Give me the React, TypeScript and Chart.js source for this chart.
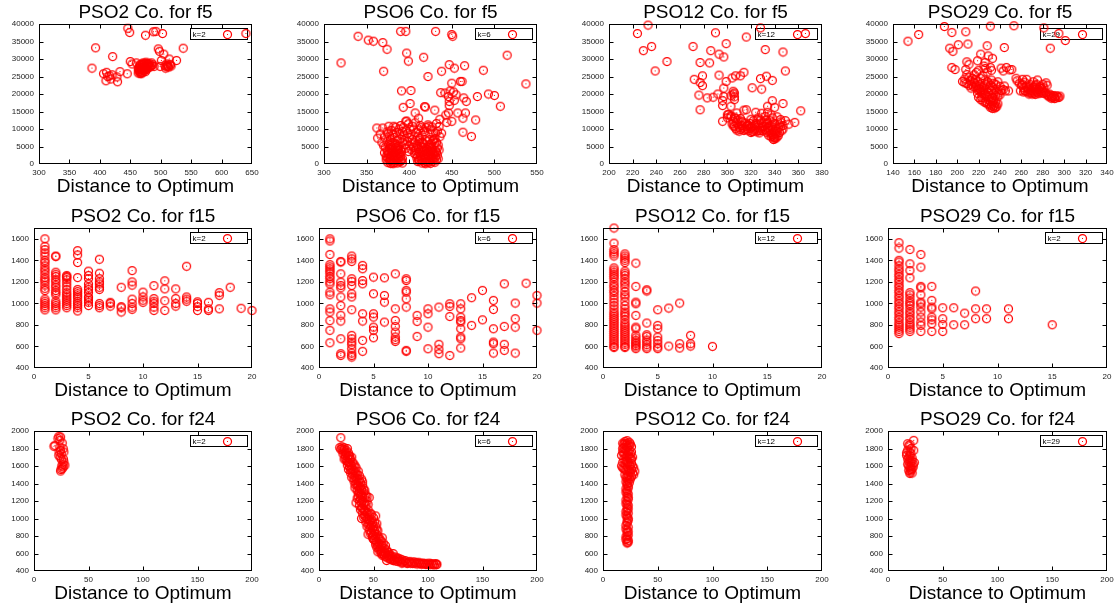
import React, { useEffect, useRef } from "react";
import { Chart, registerables } from "chart.js";
Chart.register(...registerables);

type Pt = [number, number];

// ---------- tick labels / ranges ----------
const f5YTicks = [0, 5000, 10000, 15000, 20000, 25000, 30000, 35000, 40000];
const f15YTicks = [400, 600, 800, 1000, 1200, 1400, 1600];
const f24YTicks = [400, 600, 800, 1000, 1200, 1400, 1600, 1800, 2000];
const f5YRange = [0, 40000];
const f15YRange = [400, 1700];
const f24YRange = [400, 2000];
const pso2F5XTicks = [300, 350, 400, 450, 500, 550, 600, 650];
const pso6F5XTicks = [300, 350, 400, 450, 500, 550];
const pso12F5XTicks = [200, 220, 240, 260, 280, 300, 320, 340, 360, 380];
const pso29F5XTicks = [140, 160, 180, 200, 220, 240, 260, 280, 300, 320, 340];
const f15XTicks = [0, 5, 10, 15, 20];
const f24XTicks = [0, 50, 100, 150, 200];

const titles = [
  "PSO2 Co. for f5", "PSO6 Co. for f5", "PSO12 Co. for f5", "PSO29 Co. for f5",
  "PSO2 Co. for f15", "PSO6 Co. for f15", "PSO12 Co. for f15", "PSO29 Co. for f15",
  "PSO2 Co. for f24", "PSO6 Co. for f24", "PSO12 Co. for f24", "PSO29 Co. for f24",
];
const keyLabels = ["k=2", "k=6", "k=12", "k=29", "k=2", "k=6", "k=12", "k=2", "k=2", "k=6", "k=12", "k=29"];
const xAxisLabel = "Distance to Optimum";

// ---------- series values ----------
const pso2F5: Pt[] = [
  [387,27400],[393,33200],[446,38800],[449,37600],[475,36800],[488,37800],[492,37900],[503,37300],[537,33100],[640,37300],
  [496,32900],[498,32200],[505,31400],[514,30000],[526,29600],[501,29600],[421,30700],[450,29300],[453,28600],[460,28900],
  [476,29100],[485,28900],[499,27900],[507,28200],[512,27900],[516,28300],[508,27400],[510,28600],
  [406,25800],[411,26200],[416,25200],[420,25500],[410,23800],[428,24900],[429,23500],[433,26400],[445,25800],[413,25000],[418,24300],
  [463,26000],[465,26500],[466,27000],[467,27500],[468,26200],[469,26800],[470,27300],[471,27800],[472,28300],[473,26600],
  [474,27100],[475,27600],[476,28100],[477,28600],[478,27400],[479,27900],[480,28200],[481,27700],[482,28000],[464,27200],
  [466,25900],[468,25800],[470,26100],[472,26900],[474,28700],[476,27300],[478,28700],[483,27800],[485,28100],[487,28400],
  [489,27900],[467,28200],[469,28600],[471,28900],[465,27800],[463,27300],[509,27800],[511,28100],[513,27700],[515,28500],[517,28000],
  [464,26600],[466,28400],[468,27100],[470,28500],[473,27900],[475,26400],[477,27000],[479,28500],[481,28800],[467,26300],
];
const pso6F5: Pt[] = [
  [320,28900],[340,36500],[352,35400],[358,35100],[369,34700],[374,32800],[370,26500],[390,37900],[396,37900],[397,31700],
  [399,29400],[417,30500],[431,37900],[450,37000],[451,36500],[422,25000],[438,26500],[447,28400],[453,27400],[465,28100],
  [487,26800],[515,31100],[537,22900],[391,20900],[402,21000],[393,16200],[401,17300],[418,16400],[430,15400],[437,20400],
  [442,20300],[446,19300],[450,23100],[460,23600],[462,23600],[464,18900],[467,17900],[480,19300],[493,20000],[500,19600],
  [507,16500],[478,12600],[473,7900],[463,9100],[463,13100],[450,12200],[444,11900],[446,14600],[457,14600],[466,14600],
  [447,16700],[447,17900],[411,13100],[407,14600],[404,10800],[396,12200],[390,11000],[382,10800],[376,10800],[369,10300],
  [362,10300],[363,7400],[417,9800],[423,10800],[431,8900],[429,7000],[419,16300],[452,20600],[455,19800],[448,20900],
  [453,18200],[443,14000],[436,12800],[432,11600],
  [372,4800],[374,3900],[375,2800],[376,1800],[377,900],[378,200],[379,4200],[380,3300],[381,2300],[382,1300],
  [383,400],[384,4700],[385,3700],[386,2600],[387,1600],[388,600],[389,3000],[390,2000],[391,1000],[392,300],
  [376,5600],[380,6200],[384,5800],[388,5200],[378,7000],[383,7600],[386,6800],[374,6400],[390,4200],[373,1200],
  [371,3200],[370,5200],[381,8400],[377,8000],[385,9000],[389,7200],[392,6200],[379,1000],[383,2900],[387,3900],
  [375,400],[381,100],[386,5000],[389,8600],[374,9200],
  [373,2200],[375,3500],[377,4500],[379,2500],[381,3800],[383,1800],[385,1000],[387,4400],[389,2400],[391,3600],
  [378,1500],[380,500],[382,3100],[384,2000],[386,300],[388,2900],[390,800],[376,3000],[374,1800],[392,1500],
  [380,4600],[384,3300],[386,4100],[378,5300],[382,5900],
  [395,5500],[398,6500],[400,7500],[402,8500],[396,9500],[393,10500],[399,11500],[405,10000],[408,9000],[410,7800],
  [412,6800],[415,8200],[418,9300],[420,10500],[422,11200],[425,9800],[428,8600],[430,7300],[432,6200],[434,5400],
  [436,7800],[403,5800],[407,11800],[413,11000],[397,12300],[394,8000],[401,9900],[416,6000],[424,7000],
  [396,4500],[399,3600],[402,4200],[394,6800],[400,5200],[404,7000],[406,6300],[411,9700],[414,10400],[398,8800],
  [392,9300],[388,10000],[384,10500],[379,9600],[375,8800],[371,7700],[368,6200],[366,8600],[427,10600],[433,9400],
  [438,8800],[435,10700],
  [405,4800],[407,3800],[408,2700],[409,1700],[410,700],[411,4300],[412,3300],[413,2300],[414,1300],[415,300],
  [416,4700],[417,3700],[418,2700],[419,1700],[420,700],[421,4200],[422,3200],[423,2200],[424,1200],[425,200],
  [426,4600],[427,3500],[428,2500],[429,1500],[430,500],[417,5800],[421,6500],[426,5900],[414,6200],[431,3800],
  [433,2600],[419,100],[412,900],[423,4900],[428,6700],[409,5600],[432,1200],[415,2000],[420,3000],[425,3900],
  [430,2800],[418,4000],[422,400],[427,1700],
  [406,3000],[408,4500],[410,2200],[411,1200],[413,3800],[414,4900],[416,1000],[417,2600],[418,500],[419,3500],
  [420,4500],[421,1400],[422,2500],[423,3600],[424,600],[425,2900],[426,1700],[427,4200],[428,800],[429,3300],
  [431,2000],[432,3400],[434,1500],[435,4000],[433,4600],[410,5000],[424,5500],[430,6000],[412,7300],[419,6900],
];
const pso12F5: Pt[] = [
  [224,37300],[233,39700],[229,32400],[236,33600],[239,26600],[249,29300],[271,33600],[272,24200],[276,19700],[277,15500],
  [277,29000],[277,23300],[279,25200],[279,22400],[285,28900],[286,32400],[283,18900],[288,19100],[290,37500],[293,31400],
  [297,30600],[299,34400],[293,25400],[292,20000],[297,19300],[299,23600],[297,21700],[296,18100],[296,16700],[296,12200],
  [300,14100],[303,16500],[306,18400],[305,20800],[306,20300],[304,24600],[307,25200],[311,25200],[314,26200],[316,36300],
  [328,38900],[332,32700],[328,24400],[329,21400],[333,25100],[338,23900],[347,32000],[349,26600],[321,21800],[316,15500],
  [314,15400],[324,14800],[334,16500],[338,18100],[340,16200],[347,17300],[362,15200],[357,11900],[352,11400],[345,12700],
  [366,37300],
  [304,11500],[306,10800],[307,10200],[308,9700],[309,11200],[310,10500],[311,9900],[312,11000],[313,10300],[314,9600],
  [316,10800],[305,12200],[309,12600],[312,12300],[315,11700],[317,11200],[307,13000],[303,13500],
  [318,9500],[319,10200],[320,9000],[321,10600],[322,9400],[323,11000],[324,10000],[325,9200],[326,11400],[327,10300],
  [328,9600],[329,11800],[330,10800],[319,11600],[322,12400],[325,12800],[328,12600],
  [331,10800],[332,9800],[333,11500],[334,10300],[335,9300],[336,11000],[337,8500],[338,9900],[339,7800],[340,8800],
  [341,7400],[339,7000],[340,7600],[342,9300],[343,10400],[344,11200],[345,12000],[336,12400],[338,13200],[333,12600],
  [341,10000],[337,10600],[335,8200],[343,8100],[346,9500],[347,11000],[349,12400],[340,11600],[342,13500],[332,13600],
  [300,13200],[301,14200],[303,13800],[306,13400],[308,14600],[311,13000],[326,13200],[329,14500],[334,14800],[337,14000],
  [320,12800],[303,19500],[305,20000],[306,19200],
  [305,10900],[308,11800],[310,9400],[313,12000],[315,9900],[317,10000],[318,11000],[320,10600],[321,9300],[323,9700],
  [324,11600],[326,9600],[327,8900],[329,10300],[330,9500],[331,12000],[333,9100],[334,11800],[336,9600],[337,7800],
  [338,8400],[339,8300],[340,7200],[341,8600],[342,7800],[344,9000],[345,10600],[347,10000],[338,11200],[335,10600],
];
const pso29F5: Pt[] = [
  [154,35100],[164,37000],[188,39300],[195,37600],[208,37800],[231,39400],[253,39500],[281,38900],[295,37300],[301,35300],
  [287,33100],[193,33100],[201,34100],[210,34300],[196,32200],[228,33800],[244,33300],[195,27600],[198,27000],[208,27000],
  [209,29200],[211,28500],[219,29500],[222,31400],[229,30900],[233,30200],[226,29000],
  [205,23600],[207,23200],[209,23000],[211,22500],[213,22800],[212,23900],[214,24500],[216,25500],[218,26200],[220,26800],
  [217,22000],[219,21200],[221,20800],[223,21800],[225,22300],[227,22800],[229,23200],[231,22500],[233,22000],[235,21300],
  [237,20800],[239,20300],[241,21000],[243,21300],[245,20900],[248,20900],[222,24500],[224,25300],[226,24000],[228,23600],
  [230,21800],[232,21000],[234,20200],[236,19600],[238,19200],[240,19800],[220,19000],[222,18400],[224,18000],[226,17600],
  [228,17200],[230,16900],[232,16600],[234,16400],[236,16200],[235,16800],[233,17400],[231,17900],[229,18500],[227,19200],
  [225,19700],[223,20300],[221,22800],[219,23500],[215,22100],[213,21700],[228,26300],[232,26800],[226,27300],[225,28000],
  [231,27600],[241,27400],[243,26600],[246,27600],[249,26900],[251,27000],
  [216,23100],[218,22400],[220,21700],[222,21200],[224,20600],[226,20100],[228,19600],[230,19100],[232,18700],[234,18200],
  [236,17700],[238,17200],[233,19000],[229,20500],[225,21100],[221,21500],[217,24200],[215,23500],[211,24800],[209,25600],
  [207,24300],[231,16200],[233,15900],[235,16000],[237,16500],[227,17900],[223,19000],[219,20200],[240,22200],[244,22300],
  [236,22800],[238,23500],[234,23100],[232,24000],
  [258,23100],[260,22500],[262,21800],[263,23400],[264,20800],[266,21500],[267,22300],[268,20300],[269,21000],[270,21700],
  [271,20500],[272,22000],[273,21200],[274,20600],[275,24000],[276,21300],[277,20800],[278,22200],[279,21600],[280,20900],
  [281,21800],[282,20500],[283,23200],[284,22500],[270,20000],[273,19900],[276,20100],[265,24200],[261,24200],[256,23800],
  [255,24500],[259,20900],[262,20600],[267,20000],[271,23500],[274,22800],
  [265,22000],[267,21200],[269,20500],[271,21900],[273,22500],[275,20500],[277,21800],[279,20300],[281,20200],[266,20600],
  [272,20200],[278,20500],[268,22800],[280,22800],[263,21000],[261,22800],
  [284,19800],[285,19500],[286,19200],[287,19700],[288,19400],[289,19000],[290,19600],[291,19300],[292,18900],[293,19500],
  [294,19200],[295,19000],[296,19400],[288,18800],[291,18700],[286,20000],
];
const pso2F15: Pt[] = [
  [1,1600],[1,1530],[1,1500],[1,1470],[1,1440],[1,1400],[1,1380],[1,1350],[1,1320],[1,1300],[1,1270],[1,1240],[1,1220],
  [1,1200],[1,1170],[1,1140],[1,1120],[1,1040],[1,1020],[1,1000],[1,980],[1,960],[1,940],
  [2,1440],[2,1435],[2,1290],[2,1270],[2,1250],[2,1220],[2,1200],[2,1170],[2,1150],[2,1120],[2,1100],[2,1080],[2,1020],
  [2,1000],[2,980],[2,960],[2,940],
  [3,1260],[3,1250],[3,1240],[3,1220],[3,1190],[3,1160],[3,1130],[3,1100],[3,1080],[3,1060],[3,1040],[3,1020],[3,1000],[3,980],[3,960],
  [4,1490],[4,1450],[4,1380],[4,1240],[4,1130],[4,1110],[4,1090],[4,1070],[4,1050],[4,1020],[4,1000],[4,980],[4,960],[4,930],
  [5,1300],[5,1260],[5,1230],[5,1180],[5,1150],[5,1130],[5,1100],[5,1060],[5,1050],[5,1030],[5,1010],[5,980],
  [6,1410],[6,1280],[6,1230],[6,1200],[6,1180],[6,1150],[6,1130],[6,1000],[6,980],[6,960],
  [7,1010],[7,1000],[7,975],[8,1150],[8,970],[8,960],[8,920],
  [9,1305],[9,1200],[9,1170],[9,1040],[9,1000],[9,965],[9,945],
  [10,1105],[10,1060],[10,1030],[10,1010],[11,1165],[11,1045],[11,1020],[11,1000],[11,965],[11,935],
  [12,1210],[12,1135],[12,1025],[12,935],[13,1135],[13,1045],[13,1000],[13,975],[14,1345],[14,1060],[14,1040],[14,1020],
  [15,1015],[15,1000],[15,970],[15,935],[16,1010],[16,950],[16,935],[17,1100],[17,1075],[17,950],[18,1150],[19,955],[20,935],
];
const pso6F15: Pt[] = [
  [1,1600],[1,1580],[1,1455],[1,1360],[1,1340],[1,1320],[1,1300],[1,1280],[1,1250],[1,1230],[1,1200],[1,1180],[1,1105],
  [1,1080],[1,950],[1,920],[1,840],[1,750],[1,635],
  [2,1390],[2,1384],[2,1275],[2,1198],[2,1167],[2,1145],[2,1060],[2,980],[2,890],[2,836],[2,672],[2,533],[2,517],
  [3,1440],[3,1414],[3,1390],[3,1229],[3,1204],[3,1167],[3,1090],[3,1060],[3,941],[3,703],[3,672],[3,641],[3,617],
  [3,579],[3,539],[3,517],[3,502],
  [4,1353],[4,1322],[4,1213],[4,1182],[4,904],[4,836],[4,657],[4,555],
  [5,1244],[5,1090],[5,904],[5,873],[5,780],[5,750],[5,681],[6,1238],[6,1074],[6,1012],[6,827],
  [7,1275],[7,950],[7,842],[7,787],[7,734],[7,688],[7,663],[7,647],
  [8,1229],[8,1213],[8,1121],[8,1105],[8,1043],[8,966],[8,564],[8,555],[9,889],[9,833],[9,694],
  [10,950],[10,904],[10,780],[10,579],[11,966],[11,620],[11,573],[11,533],[12,997],[12,972],[12,879],[12,517],
  [13,997],[13,950],[13,873],[13,842],[13,827],[13,765],[13,688],[13,672],[13,586],[14,1053],[14,796],[15,1121],[15,848],
  [16,1028],[16,944],[16,765],[16,641],[16,626],[16,539],[17,1182],[17,787],[17,620],[17,564],
  [18,1003],[18,858],[18,780],[18,539],[19,1188],[20,1074],[20,1003],[20,750],
];
const pso12F15: Pt[] = [
  [1,1700],[1,1560],[1,1500],[1,1480],[1,1460],[1,1440],[1,1330],[1,1310],[1,1290],[1,1270],[1,1250],[1,1230],[1,1200],
  [1,1170],[1,1150],[1,1120],[1,1100],[1,1070],[1,1040],[1,1010],[1,980],[1,950],[1,920],[1,900],[1,880],[1,860],[1,840],
  [1,820],[1,800],[1,780],[1,760],[1,740],[1,720],[1,700],[1,680],[1,660],[1,640],[1,620],[1,600],[1,590],
  [2,1460],[2,1440],[2,1420],[2,1400],[2,1380],[2,1300],[2,1280],[2,1260],[2,1230],[2,1200],[2,1180],[2,1150],[2,1110],
  [2,1080],[2,1060],[2,1020],[2,980],[2,950],[2,920],[2,900],[2,880],[2,850],[2,820],[2,800],[2,780],[2,760],[2,740],
  [2,720],[2,700],[2,680],[2,660],[2,640],[2,620],[2,600],[2,590],
  [3,1374],[3,1158],[3,1012],[3,997],[3,889],[3,780],[3,765],[3,703],[3,680],[3,657],[3,640],[3,626],[3,610],[3,595],[3,580],
  [4,1127],[4,1115],[4,818],[4,709],[4,694],[4,660],[4,641],[4,617],[4,595],[4,580],
  [5,941],[5,796],[5,765],[5,688],[5,657],[5,626],[5,595],[5,580],[6,957],[6,604],[7,1003],[7,626],[7,586],
  [8,703],[8,626],[8,604],[10,601],
];
const pso29F15: Pt[] = [
  [1,1564],[1,1514],[1,1400],[1,1384],[1,1350],[1,1320],[1,1300],[1,1270],[1,1250],[1,1220],[1,1200],[1,1170],[1,1150],
  [1,1120],[1,1100],[1,1070],[1,1050],[1,1020],[1,1000],[1,970],[1,950],[1,920],[1,900],[1,870],[1,850],[1,820],[1,800],
  [1,780],[1,760],[1,740],[1,720],
  [2,1501],[2,1368],[2,1306],[2,1238],[2,1100],[2,1080],[2,1050],[2,1020],[2,1000],[2,980],[2,950],[2,920],[2,900],
  [2,870],[2,850],[2,820],[2,800],[2,780],[2,760],[2,740],
  [3,1455],[3,1337],[3,1158],[3,1145],[3,1080],[3,1012],[3,997],[3,966],[3,920],[3,873],[3,827],[3,796],[3,740],
  [4,1158],[4,1028],[4,966],[4,950],[4,873],[4,848],[4,811],[4,740],[5,960],[5,858],[5,805],[5,740],
  [6,960],[6,802],[7,910],[7,802],[8,1115],[8,950],[8,858],[9,950],[9,858],[11,950],[11,858],[15,802],
];
const pso2F24: Pt[] = [
  [18.3,1825],[19.2,1836],[22.8,1939],[24.4,1931],[23.7,1893],[25.9,1863],[26.8,1798],[27.4,1760],[24.4,1779],[22.8,1722],
  [25.3,1672],[27.4,1646],[28.3,1608],[25.9,1570],[24.4,1543],[26.8,1589],[23.7,1817],[25,1741],[26.5,1620],[24,1700],
  [25.5,1600],[27,1680],[23,1760],[22,1915],[24.8,1560],
];
const pso6F24: Pt[] = [
  [20,1924],[19,1810],[20,1790],[21,1800],[22,1770],[23,1790],[24,1760],[25,1780],[26,1800],[27,1750],[28,1720],[22,1740],
  [24,1720],[26,1700],[28,1680],[30,1700],[23,1680],[25,1660],[27,1640],[29,1620],[31,1640],[33,1600],[26,1610],[28,1590],
  [30,1570],[32,1550],[34,1530],[36,1540],[29,1520],[31,1500],[33,1480],[35,1460],[37,1440],[39,1450],[32,1430],[34,1400],
  [36,1380],[38,1360],[40,1380],[33,1350],[35,1320],[37,1300],[39,1280],[41,1300],[43,1270],[36,1250],[38,1220],[40,1200],
  [42,1180],[44,1200],[35,1230],[46,1240],[34,1180],[37,1150],[39,1120],[41,1100],[43,1080],[45,1100],[47,1060],[40,1060],
  [42,1030],[44,1000],[46,980],[48,990],[50,1010],[52,1030],[39,1000],[43,960],[45,930],[47,900],[49,880],[51,860],[53,880],
  [46,870],[48,840],[50,810],[52,790],[54,800],[56,760],[45,820],[58,780],[50,760],[52,730],[54,700],[56,680],[58,690],
  [60,660],[53,670],[55,640],[57,620],[59,610],[61,600],[63,620],[54,620],[68,600],[58,580],[60,570],[62,560],[64,575],
  [66,560],[65,545],[67,540],[69,530],[71,540],[73,525],[62,520],[70,515],[72,510],[75,505],[78,510],[80,500],[77,495],
  [82,495],[84,490],[86,485],[88,490],[90,480],[92,485],[94,478],[96,482],[98,475],[100,478],[102,472],[104,476],[106,470],
  [108,474],[85,500],[95,490],[103,485],
  [21,1820],[23,1810],[25,1740],[27,1720],[29,1680],[24,1690],[26,1650],[28,1640],[30,1610],[32,1620],[34,1580],[27,1560],
  [29,1560],[31,1530],[33,1520],[35,1500],[37,1490],[30,1470],[32,1460],[34,1440],[36,1420],[38,1410],[40,1420],[33,1390],
  [35,1370],[37,1340],[39,1330],[41,1340],[42,1320],[36,1290],[38,1270],[40,1250],[42,1240],[44,1250],[37,1200],[39,1180],
  [41,1160],[43,1150],[45,1160],[38,1100],[40,1120],[42,1090],[44,1060],[46,1040],[48,1050],[41,1010],[43,1020],[45,990],
  [47,960],[49,950],[51,960],[53,940],[44,910],[46,940],[48,920],[50,900],[52,910],[54,860],[47,830],[49,810],[51,830],
  [53,820],[55,780],[57,740],[49,780],[51,760],[53,740],[55,720],[57,700],[59,720],[61,690],[52,700],[54,680],[56,650],
  [58,640],[60,620],[62,640],[64,610],[57,600],[59,590],[63,580],[65,590],[67,570],[70,560],[72,550],[74,540],[76,530],
  [64,540],[66,530],[68,520],[74,515],[79,520],[83,510],[87,505],[91,500],[76,490],[81,485],[89,495],[93,490],[97,488],
  [99,482],[101,490],[105,480],[107,485],[108,478],
];
const pso12F24: Pt[] = [
  [20,1880],[22,1890],[24,1870],[19,1850],[21,1840],[23,1830],[25,1850],[18,1800],[20,1790],[22,1810],[24,1780],[26,1760],
  [17,1720],[19,1740],[21,1700],[23,1720],[25,1690],[27,1700],[18,1640],[20,1620],[22,1650],[24,1610],[26,1630],[28,1580],
  [17,1600],[19,1570],[21,1550],[23,1560],[25,1530],[27,1520],[29,1540],[20,1500],[22,1480],[24,1460],[26,1480],[23,1430],
  [21,1420],
  [18,1860],[20,1860],[22,1860],[24,1840],[26,1820],[19,1810],[21,1780],[23,1760],[25,1740],[18,1760],[20,1740],[22,1720],
  [24,1700],[26,1680],[19,1680],[21,1660],[23,1640],[25,1600],[27,1600],[18,1580],[20,1560],[22,1590],[24,1540],[26,1560],
  [28,1500],[21,1470],[23,1490],[25,1450],[22,1450],[24,1410],
  [22,1380],[23,1350],[22,1320],[21,1300],[23,1280],[22,1250],[23,1220],[22,1190],[21,1170],[23,1150],[22,1120],[22,1090],
  [23,1060],[21,1040],[22,1010],[23,980],[22,950],[21,920],[23,900],[22,870],[22,840],[23,810],[21,790],[22,770],[23,750],
  [22,730],[22,720],
  [22,1400],[23,1370],[21,1340],[22,1290],[23,1240],[21,1210],[22,1160],[23,1110],[21,1080],[22,1030],[23,1000],[22,960],
  [21,880],[23,850],[22,800],[21,760],[23,730],
];
const pso29F24: Pt[] = [
  [23.5,1893],[23.5,1779],[18,1855],[19,1830],[20,1845],[17,1722],[17,1750],[18,1780],[19,1700],[20,1720],[21,1740],
  [22,1690],[18,1680],[19,1650],[20,1670],[21,1640],[22,1660],[23,1620],[18,1620],[19,1600],[20,1580],[21,1600],[22,1570],
  [23,1590],[19,1550],[20,1530],[21,1545],[22,1520],[20,1515],[21,1560],[24,1640],[20,1760],[21,1800],
];

const seriesList: Pt[][] = [
  pso2F5, pso6F5, pso12F5, pso29F5,
  pso2F15, pso6F15, pso12F15, pso29F15,
  pso2F24, pso6F24, pso12F24, pso29F24,
];
const xTickList = [
  pso2F5XTicks, pso6F5XTicks, pso12F5XTicks, pso29F5XTicks,
  f15XTicks, f15XTicks, f15XTicks, f15XTicks,
  f24XTicks, f24XTicks, f24XTicks, f24XTicks,
];
const yTickList = [f5YTicks, f15YTicks, f24YTicks];
const yRangeList = [f5YRange, f15YRange, f24YRange];

// ---------- layout ----------
const FONT = '"Liberation Sans", Arial, Helvetica, sans-serif';
const RED = "#ff0000";
const colLeft = [0, 280, 560, 840];
const colWidth = [279, 279, 279, 274];
const rowTop = [0, 204, 407];
const CELL_H = 203;
const PLOT_TOP = 24;
const PLOT_BOTTOM = 164;
const plotLeftByRow = [
  [39, 44, 49, 53],
  [34, 39, 43, 48],
  [34, 39, 43, 48],
];
const plotRightByCol = [252, 257, 262, 267];

function makeMarker(): HTMLCanvasElement {
  const c = document.createElement("canvas");
  c.width = 11;
  c.height = 11;
  const g = c.getContext("2d")!;
  g.strokeStyle = RED;
  g.lineWidth = 1.25;
  g.beginPath();
  g.arc(5.5, 5.5, 4, 0, Math.PI * 2);
  g.stroke();
  g.fillStyle = RED;
  g.fillRect(5, 5, 1, 1);
  return c;
}

const framePlugin = {
  id: "gpFrame",
  afterDatasetsDraw(chart: any) {
    const { ctx, chartArea: a, scales } = chart;
    const L = Math.round(a.left) + 0.5;
    const R = Math.round(a.right) - 0.5;
    const T = Math.round(a.top) + 0.5;
    const B = Math.round(a.bottom) - 0.5;
    ctx.save();
    ctx.strokeStyle = "#000";
    ctx.lineWidth = 1;
    ctx.strokeRect(L, T, R - L, B - T);
    const TL = 4;
    ctx.beginPath();
    const xs = scales.x;
    xs.ticks.forEach((_t: any, i: number) => {
      const p = Math.round(xs.getPixelForTick(i)) + 0.5;
      if (p - L < 1.5 || R - p < 1.5) return;
      ctx.moveTo(p, B);
      ctx.lineTo(p, B - TL);
      ctx.moveTo(p, T);
      ctx.lineTo(p, T + TL);
    });
    const ys = scales.y;
    ys.ticks.forEach((_t: any, i: number) => {
      const p = Math.round(ys.getPixelForTick(i)) + 0.5;
      if (p - T < 1.5 || B - p < 1.5) return;
      ctx.moveTo(L, p);
      ctx.lineTo(L + TL, p);
      ctx.moveTo(R, p);
      ctx.lineTo(R - TL, p);
    });
    ctx.stroke();
    ctx.restore();
  },
};

function keyPlugin(label: string, marker: HTMLCanvasElement) {
  return {
    id: "gpKey",
    beforeDatasetsDraw(chart: any) {
      const { ctx, chartArea: a } = chart;
      ctx.save();
      ctx.font = `8px ${FONT}`;
      const tw = ctx.measureText(label).width;
      const w = Math.round(tw + 44);
      const h = 11;
      const x = Math.round(a.right - 5 - w) + 0.5;
      const y = Math.round(a.top + 4) + 0.5;
      ctx.strokeStyle = "#000";
      ctx.lineWidth = 1;
      ctx.strokeRect(x, y, w, h);
      ctx.fillStyle = "#000";
      ctx.textBaseline = "middle";
      ctx.textAlign = "left";
      ctx.fillText(label, x + 2, y + h / 2 + 0.5);
      ctx.drawImage(marker, Math.round(x + w - 20 - 5.5), Math.round(y + h / 2 - 5.5));
      ctx.restore();
    },
  };
}

function Panel({ idx }: { idx: number }) {
  const ref = useRef<HTMLCanvasElement>(null);
  const row = Math.floor(idx / 4);
  const col = idx % 4;
  const width = colWidth[col];
  const height = CELL_H;
  const plotLeft = plotLeftByRow[row][col];
  const plotRight = plotRightByCol[col];

  useEffect(() => {
    const marker = makeMarker();
    const xt = xTickList[idx];
    const yt = yTickList[row];
    const yr = yRangeList[row];
    const tickFont = { family: FONT, size: 8 };
    const chart = new Chart(ref.current!, {
      type: "scatter",
      data: {
        datasets: [
          {
            label: keyLabels[idx],
            data: seriesList[idx].map(([x, y]) => ({ x, y })),
            pointStyle: marker as any,
            pointRadius: 4.5,
            pointHoverRadius: 4.5,
            borderWidth: 0,
            clip: false as any,
          },
        ],
      },
      options: {
        animation: false,
        responsive: false,
        events: [],
        layout: { padding: { left: 0, right: width - plotRight, top: 0, bottom: 0 } },
        plugins: {
          legend: { display: false },
          tooltip: { enabled: false },
          title: {
            display: true,
            text: titles[idx],
            fullSize: false,
            color: "#000",
            font: { family: FONT, size: 19, weight: "normal" as any, lineHeight: 1.2 },
            padding: { top: 1, bottom: PLOT_TOP - 23.8 },
          },
        },
        scales: {
          x: {
            type: "linear",
            min: xt[0],
            max: xt[xt.length - 1],
            afterBuildTicks: (s: any) => {
              s.ticks = xt.map((v) => ({ value: v }));
            },
            afterFit: (s: any) => {
              s.height = height - PLOT_BOTTOM;
              s.paddingLeft = 0;
              s.paddingRight = 0;
            },
            ticks: {
              callback: (v: any) => String(v),
              font: tickFont,
              color: "#222",
              padding: 4,
              maxRotation: 0,
              autoSkip: false,
            },
            grid: { display: false, drawTicks: false },
            border: { display: false },
            title: {
              display: true,
              text: xAxisLabel,
              color: "#000",
              font: { family: FONT, size: 19, lineHeight: 1.2 },
              padding: { top: 0, bottom: 5.2 },
            },
          },
          y: {
            type: "linear",
            min: yr[0],
            max: yr[1],
            afterBuildTicks: (s: any) => {
              s.ticks = yt.map((v) => ({ value: v }));
            },
            afterFit: (s: any) => {
              s.width = plotLeft;
              s.paddingTop = 0;
              s.paddingBottom = 0;
            },
            ticks: {
              callback: (v: any) => String(v),
              font: tickFont,
              color: "#222",
              padding: 5,
              autoSkip: false,
            },
            grid: { display: false, drawTicks: false },
            border: { display: false },
          },
        },
      },
      plugins: [framePlugin, keyPlugin(keyLabels[idx], marker)],
    } as any);
    return () => chart.destroy();
  }, [idx]);

  return (
    <canvas
      ref={ref}
      width={width}
      height={height}
      style={{ position: "absolute", left: colLeft[col], top: rowTop[row], width, height }}
    />
  );
}

export default function App() {
  return (
    <div
      style={{
        position: "absolute",
        left: 0,
        top: 0,
        width: 1114,
        height: 607,
        overflow: "hidden",
        background: "#fff",
      }}
    >
      {titles.map((_, i) => (
        <Panel key={i} idx={i} />
      ))}
    </div>
  );
}
